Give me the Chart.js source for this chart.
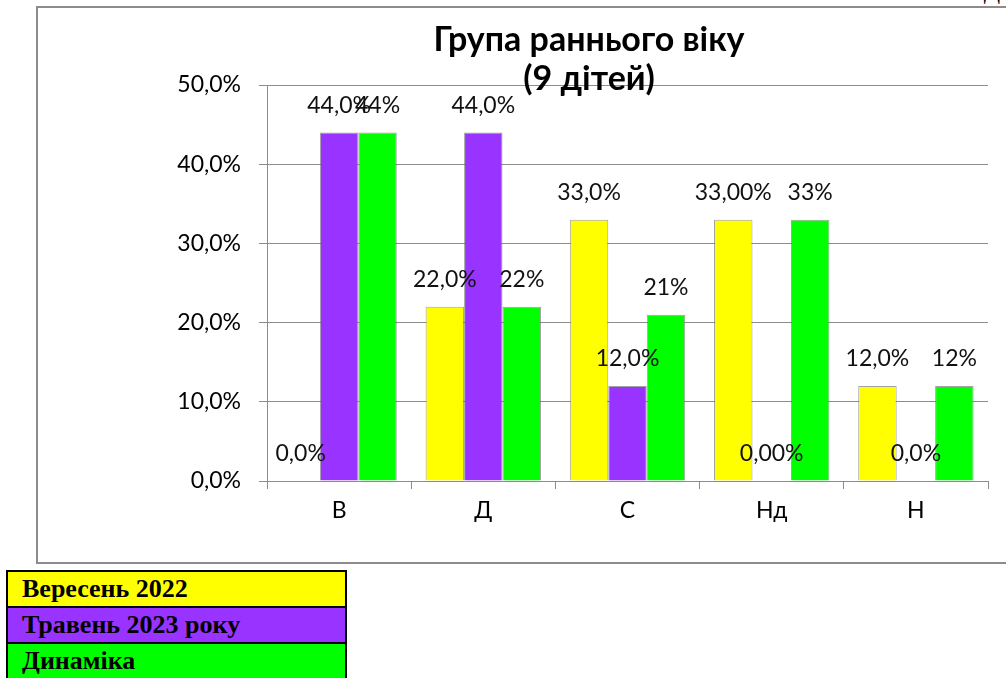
<!DOCTYPE html>
<html>
<head>
<meta charset="utf-8">
<script src="https://cdn.jsdelivr.net/npm/chart.js@4"></script>
<style>
  body { margin: 0; background: #fff; width: 1006px; height: 678px; overflow: hidden; position: relative; }
  #box { position: absolute; left: 36px; top: 6px; width: 980px; height: 558px; border: 2px solid #8c8c8c; box-sizing: border-box; }
  #chart { position: absolute; left: 37px; top: 7px; }
  #corner { position: absolute; right: 6px; top: -22px; font: 24px 'Liberation Serif', serif; color: #000; }
  #legend { position: absolute; left: 6px; top: 570px; border-collapse: collapse; width: 341px; }
  #legend td { border: 2px solid #000; height: 34px; padding: 0 0 0 14px; font: bold 26px 'Liberation Serif', serif; color: #000; line-height: 30px; }
</style>
</head>
<body>
<div id="box"></div>
<div id="corner">Д</div>
<canvas id="chart" width="969" height="558"></canvas>
<table id="legend"></table>
<script>
// данные
const categories = ['В', 'Д', 'С', 'Нд', 'Н'];
const seriesNames = ['Вересень 2022', 'Травень 2023 року', 'Динаміка'];
const september = [0, 22, 33, 33, 12];
const may = [44, 44, 12, 0, 0];
const dynamics = [44, 22, 21, 33, 12];
const septemberLabels = ['0,0%', '22,0%', '33,0%', '33,00%', '12,0%'];
const mayLabels = ['44,0%', '44,0%', '12,0%', '0,00%', '0,0%'];
const dynamicsLabels = ['44%', '22%', '21%', '33%', '12%'];
const yTickLabels = ['0,0%', '10,0%', '20,0%', '30,0%', '40,0%', '50,0%'];
const titleLines = ['Група раннього віку', '(9 дітей)'];

const colors = ['#ffff00', '#9933ff', '#00ff00'];
const edgeColors = ['#d8d800', '#7f22dd', '#00cc00'];

// легенда-таблица
const legend = document.getElementById('legend');
seriesNames.forEach((name, i) => {
  const tr = document.createElement('tr');
  const td = document.createElement('td');
  td.textContent = name;
  td.style.background = colors[i];
  tr.appendChild(td);
  legend.appendChild(tr);
});

// градиент для объёмных столбиков
function barFill(i) {
  return ctx => {
    const el = ctx.element;
    if (!el || el.x === undefined) return colors[i];
    const w = el.width || 38;
    const g = ctx.chart.ctx.createLinearGradient(el.x - w / 2, 0, el.x + w / 2, 0);
    g.addColorStop(0, edgeColors[i]);
    g.addColorStop(0.12, colors[i]);
    g.addColorStop(0.88, colors[i]);
    g.addColorStop(1, edgeColors[i]);
    return g;
  };
}

const valueLabels = {
  id: 'valueLabels',
  afterDatasetsDraw(chart) {
    const c = chart.ctx;
    c.save();
    c.font = '23px Lato, "Open Sans", sans-serif';
    c.fillStyle = '#111';
    c.textAlign = 'center';
    c.textBaseline = 'middle';
    chart.data.datasets.forEach((ds, di) => {
      chart.getDatasetMeta(di).data.forEach((bar, i) => {
        c.fillText(ds.labelsText[i], bar.x, bar.y - 27);
      });
    });
    c.restore();
  }
};

const titlePlugin = {
  id: 'twoLineTitle',
  afterDraw(chart) {
    const c = chart.ctx;
    c.save();
    c.font = 'bold 34px Lato, "Open Sans", sans-serif';
    c.fillStyle = '#000';
    c.textAlign = 'center';
    c.textBaseline = 'middle';
    c.fillText(titleLines[0], 552, 33);
    c.fillText(titleLines[1], 552, 72);
    c.restore();
  }
};

const datasetsSrc = [september, may, dynamics];
const labelSrc = [septemberLabels, mayLabels, dynamicsLabels];

new Chart(document.getElementById('chart'), {
  type: 'bar',
  data: {
    labels: categories,
    datasets: datasetsSrc.map((d, i) => ({
      label: seriesNames[i],
      data: d,
      labelsText: labelSrc[i],
      backgroundColor: barFill(i),
      borderColor: 'rgba(100,100,100,0.6)',
      borderWidth: 1,
      categoryPercentage: 0.8,
      barPercentage: 1.0
    }))
  },
  options: {
    responsive: false,
    animation: false,
    layout: { padding: { top: 78, right: 18, bottom: 0, left: 0 } },
    plugins: {
      legend: { display: false },
      title: { display: false },
      tooltip: { enabled: false }
    },
    scales: {
      y: {
        min: 0,
        max: 50,
        ticks: {
          stepSize: 10,
          padding: 18,
          color: '#000',
          font: { size: 23, family: 'Lato, "Open Sans", sans-serif' },
          callback: (v, i) => yTickLabels[i]
        },
        grid: { color: '#8c8c8c', tickLength: 8, lineWidth: 1 },
        border: { color: '#8c8c8c' },
        afterFit: s => { s.width = 230; }
      },
      x: {
        ticks: {
          padding: 8,
          color: '#000',
          font: { size: 23, family: 'Lato, "Open Sans", sans-serif' }
        },
        grid: { display: true, drawOnChartArea: false, color: '#8c8c8c', tickLength: 8, offset: true },
        border: { color: '#8c8c8c' },
        afterFit: s => { s.height = 84; }
      }
    }
  },
  plugins: [valueLabels, titlePlugin]
});
</script>
</body>
</html>
